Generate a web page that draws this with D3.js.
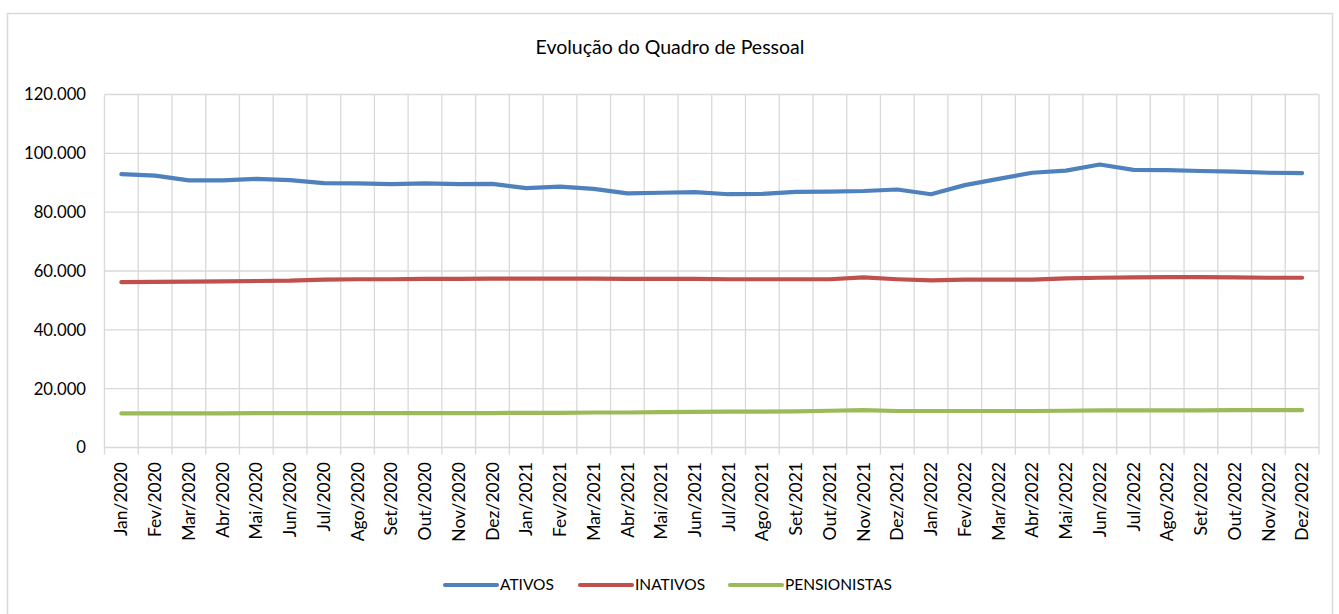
<!DOCTYPE html>
<html><head><meta charset="utf-8">
<script src="https://cdn.jsdelivr.net/npm/d3@7"></script>
<style>body{margin:0;background:#fff;} svg{display:block;font-family:Lato,"Open Sans",sans-serif;}</style>
</head><body><div id="chart"></div>
<script>
const categories = ["Jan/2020","Fev/2020","Mar/2020","Abr/2020","Mai/2020","Jun/2020","Jul/2020","Ago/2020","Set/2020","Out/2020","Nov/2020","Dez/2020",
"Jan/2021","Fev/2021","Mar/2021","Abr/2021","Mai/2021","Jun/2021","Jul/2021","Ago/2021","Set/2021","Out/2021","Nov/2021","Dez/2021",
"Jan/2022","Fev/2022","Mar/2022","Abr/2022","Mai/2022","Jun/2022","Jul/2022","Ago/2022","Set/2022","Out/2022","Nov/2022","Dez/2022"];
const ativos = [92900,92400,90800,90800,91300,90900,89900,89800,89500,89800,89500,89600,
88200,88700,87900,86400,86600,86800,86100,86200,86900,87000,87200,87700,
86100,89200,91300,93400,94100,96200,94400,94300,94000,93800,93400,93300];
const inativos = [56200,56300,56400,56500,56600,56700,57100,57200,57200,57300,57300,57400,
57400,57400,57400,57300,57300,57300,57200,57200,57200,57200,57800,57200,
56800,57100,57100,57100,57500,57700,57800,57900,57900,57800,57700,57700];
const pensionistas = [11600,11600,11600,11600,11700,11700,11700,11700,11700,11700,11700,11700,
11800,11800,11900,11900,12000,12100,12200,12200,12300,12500,12700,12400,
12400,12400,12400,12400,12500,12600,12600,12600,12600,12700,12700,12700];
const seriesNames = ["ATIVOS","INATIVOS","PENSIONISTAS"];
const colors = ["#4F81BD","#C0504D","#9BBB59"];
const yTicks = [0,20000,40000,60000,80000,100000,120000];
const title = "Evolução do Quadro de Pessoal";

const W=1339,H=614;
const svg=d3.select("#chart").append("svg").attr("width",W).attr("height",H);
svg.append("rect").attr("x",7.5).attr("y",13.5).attr("width",1325).attr("height",620).attr("fill","#fff").attr("stroke","#D9D9D9").attr("stroke-width",1.5);

const m={l:104.5,r:1319,t:94.5,b:447.5};
const x=d3.scaleBand().domain(categories).range([m.l,m.r]);
const y=d3.scaleLinear().domain([0,120000]).range([m.b,m.t]);
const fmt=v=>d3.format(",")(v).replace(/,/g,".");

// grid
const g=svg.append("g");
g.selectAll(".hg").data(yTicks).join("line").attr("x1",m.l).attr("x2",m.r).attr("y1",d=>y(d)).attr("y2",d=>y(d)).attr("stroke","#D9D9D9").attr("stroke-width",1.3);
const vb=categories.map(c=>x(c)).concat([m.r]);
g.selectAll(".vg").data(vb).join("line").attr("x1",d=>d).attr("x2",d=>d).attr("y1",m.t).attr("y2",m.b+7).attr("stroke","#D9D9D9").attr("stroke-width",1.3);

// y labels
svg.append("g").selectAll("text").data(yTicks).join("text").attr("x",86).attr("y",d=>y(d)).attr("dy","0.35em").attr("text-anchor","end").attr("font-size",16.7).attr("fill","#000").text(d=>d===0?"0":fmt(d));

// x labels
svg.append("g").selectAll("text").data(categories).join("text")
 .attr("transform",d=>`translate(${x(d)+x.bandwidth()/2},462) rotate(-90)`)
 .attr("dy","0.35em")
 .attr("text-anchor","end").attr("font-size",17.5).attr("fill","#000").text(d=>d);

// lines
const all=[ativos,inativos,pensionistas];
const line=d3.line().x((d,i)=>x(categories[i])+x.bandwidth()/2).y(d=>y(d));
all.forEach((s,k)=>{
 svg.append("path").datum(s).attr("d",line).attr("fill","none").attr("stroke",colors[k]).attr("stroke-width",4.2).attr("stroke-linecap","round").attr("stroke-linejoin","round");
});

// title
svg.append("text").attr("x",670).attr("y",54).attr("text-anchor","middle").attr("font-size",19.5).attr("fill","#000").text(title);

// legend
const lx=[445,580,730];
seriesNames.forEach((n,k)=>{
 svg.append("line").attr("x1",lx[k]).attr("x2",lx[k]+52).attr("y1",585).attr("y2",585).attr("stroke",colors[k]).attr("stroke-width",4.2).attr("stroke-linecap","round");
 svg.append("text").attr("x",lx[k]+55).attr("y",585).attr("dy","0.35em").attr("font-size",15.5).attr("fill","#000").text(n);
});
</script></body></html>
